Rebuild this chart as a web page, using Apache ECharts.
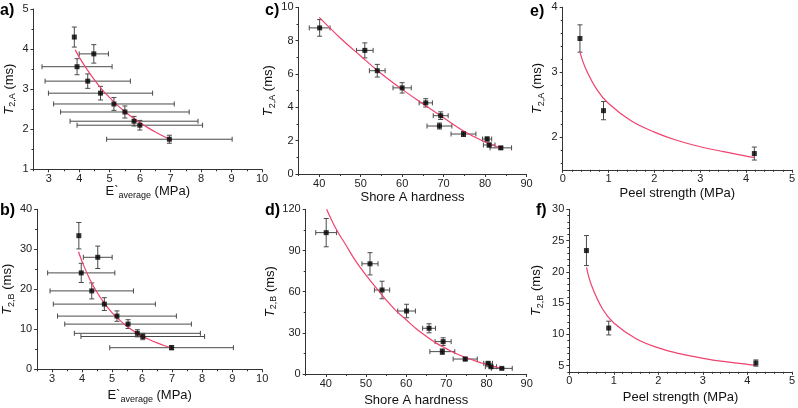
<!DOCTYPE html>
<html><head><meta charset="utf-8">
<script src="https://cdn.jsdelivr.net/npm/echarts@6/dist/echarts.min.js"></script>
<style>html,body{margin:0;padding:0;background:#fff}#c{width:798px;height:408px}</style>
</head><body><div id="c"></div>
<script>
// ---------- data ----------
// Panel a: E`average vs T2,A
const aX = [3.84, 4.48, 3.93, 4.28, 4.70, 5.14, 5.50, 5.80, 5.99, 6.96];
const aY = [4.30, 3.88, 3.56, 3.20, 2.90, 2.63, 2.43, 2.20, 2.10, 1.75];
const aXErr = [0, 0.48, 1.15, 1.40, 1.71, 1.98, 2.11, 2.10, 2.06, 2.06];
const aYErr = [0.25, 0.23, 0.20, 0.18, 0.17, 0.16, 0.15, 0.12, 0.12, 0.10];
const aFitX = [3.87, 4.0, 4.25, 4.5, 4.75, 5.0, 5.25, 5.5, 5.75, 6.0, 6.25, 6.5, 6.75, 7.0];
const aFitY = [3.98, 3.80, 3.50, 3.23, 2.99, 2.79, 2.60, 2.44, 2.29, 2.16, 2.04, 1.93, 1.83, 1.74];
// Panel b: E`average vs T2,B
const bX = [3.89, 4.52, 3.97, 4.32, 4.74, 5.16, 5.53, 5.84, 6.02, 6.98];
const bY = [33.4, 28.0, 24.1, 19.6, 16.3, 13.3, 11.3, 9.0, 8.2, 5.4];
const bXErr = [0, 0.48, 1.12, 1.39, 1.70, 1.98, 2.11, 2.10, 2.06, 2.06];
const bYErr = [3.3, 2.8, 2.4, 2.0, 1.6, 1.3, 1.1, 0.9, 0.8, 0.5];
const bFitX = [3.88, 4.0, 4.25, 4.5, 4.75, 5.0, 5.25, 5.5, 5.75, 6.0, 6.25, 6.5, 6.75, 7.0];
const bFitY = [29.4, 26.9, 22.6, 19.2, 16.4, 14.1, 12.3, 10.7, 9.4, 8.3, 7.4, 6.6, 5.9, 5.3];
// Panel c: Shore A hardness vs T2,A
const cX = [40.1, 51.0, 54.0, 60.0, 65.7, 69.3, 69.0, 74.8, 80.5, 81.0, 83.8];
const cY = [8.77, 7.42, 6.20, 5.17, 4.27, 3.50, 2.88, 2.40, 2.10, 1.74, 1.57];
const cXErr = [2.5, 2.0, 1.9, 2.2, 1.6, 1.8, 3.0, 3.0, 1.1, 1.4, 2.6];
const cYErr = [0.50, 0.45, 0.38, 0.31, 0.25, 0.23, 0.18, 0.15, 0.12, 0.12, 0.08];
const cFitX = [40, 45, 50, 55, 60, 65, 70, 75, 80, 84];
const cFitY = [9.40, 8.18, 7.08, 6.02, 5.08, 4.22, 3.38, 2.55, 1.92, 1.55];
// Panel d: Shore A hardness vs T2,B
const dX = [40.1, 51.0, 54.0, 60.1, 65.7, 69.2, 69.0, 74.7, 80.4, 81.1, 83.8];
const dY = [103, 80.3, 61.2, 45.9, 33.3, 23.6, 16.3, 10.9, 7.8, 5.3, 4.1];
const dXErr = [2.6, 2.0, 1.9, 2.2, 1.6, 2.0, 3.1, 3.0, 1.1, 1.4, 2.6];
const dYErr = [10.3, 8.1, 6.4, 4.9, 3.3, 2.8, 2.0, 1.3, 1.0, 0.7, 0.5];
const dFitX = [40.2, 42.5, 45, 47.5, 50, 52.5, 55, 57.5, 60, 62.5, 65, 67.5, 70, 72.5, 75, 77.5, 80, 82, 84];
const dFitY = [120, 106, 94, 82, 72, 63, 54, 46, 39.5, 33, 27.5, 22.5, 18.5, 14.8, 11.8, 9.2, 7.0, 5.3, 4.0];
// Panel e: Peel strength vs T2,A
const eX = [0.376, 0.89, 4.18];
const eY = [3.52, 2.41, 1.75];
const eXErr = [0, 0, 0];
const eYErr = [0.21, 0.14, 0.10];
const eFitX = [0.376, 0.5, 0.75, 1, 1.5, 2, 2.5, 3, 3.5, 4, 4.18];
const eFitY = [3.31, 3.06, 2.73, 2.52, 2.25, 2.08, 1.95, 1.855, 1.78, 1.71, 1.69];
// Panel f: Peel strength vs T2,B
const fX = [0.385, 0.885, 4.19];
const fY = [23.4, 11.0, 5.4];
const fXErr = [0, 0, 0];
const fYErr = [2.4, 1.1, 0.5];
const fFitX = [0.387, 0.5, 0.75, 1, 1.5, 2, 2.5, 3, 3.5, 4, 4.19];
const fFitY = [20.7, 17.8, 14.0, 11.8, 9.28, 7.82, 6.86, 6.16, 5.62, 5.19, 5.05];

// tick labels
const eAvgTicks = [3, 4, 5, 6, 7, 8, 9, 10];
const aYTicks = [1, 2, 3, 4, 5];
const bYTicks = [0, 10, 20, 30, 40];
const shoreTicks = [40, 50, 60, 70, 80, 90];
const cYTicks = [0, 2, 4, 6, 8, 10];
const dYTicks = [0, 30, 60, 90, 120];
const peelTicks = [0, 1, 2, 3, 4, 5];
const eYTicks = [2, 3, 4];
const fYTicks = [5, 10, 15, 20, 25, 30];

// ---------- chart ----------
const FONT = 'Arial, "Liberation Sans", Helvetica, sans-serif';
const AX = '#333';
const EB = '#4a4a4a';
const FIT = '#f0426e';

const richBase = {
  n: {fontSize: 13, fontFamily: FONT, color: '#111', lineHeight: 15, verticalAlign: 'top'},
  i: {fontSize: 13, fontFamily: FONT, color: '#111', lineHeight: 15, fontStyle: 'italic', verticalAlign: 'top'},
  s: {fontSize: 9, fontFamily: FONT, color: '#111', lineHeight: 9, padding: [6, 0, 0, 0], verticalAlign: 'top'}
};
const nameE = '{n|E`}{s|average}{n| (MPa)}';
const nameShore = '{n|Shore A hardness}';
const namePeel = '{n|Peel strength (MPa)}';
const nameTA = '{i|T}{s|2,A}{n| (ms)}';
const nameTB = '{i|T}{s|2,B}{n| (ms)}';

const panels = [
  {g: {left: 33.5, top: 9, width: 228.5, height: 160.3}, xr: [2.5, 10], yr: [1, 5], xt: eAvgTicks, yt: aYTicks, xm: 0.5, ym: 0.5,
   xn: nameE, yn: nameTA, xg: 10.5, yg: 16, p: [aX, aY, aXErr, aYErr], f: [aFitX, aFitY], lab: 'a)', lp: [0, 3]},
  {g: {left: 33.5, top: 209.3, width: 228.7, height: 160}, xr: [2.5, 10], yr: [0, 40], xt: eAvgTicks, yt: bYTicks, xm: 0.5, ym: 5,
   xn: nameE, yn: nameTB, xg: 20, yg: 17, p: [bX, bY, bXErr, bYErr], f: [bFitX, bFitY], lab: 'b)', lp: [0, 203]},
  {g: {left: 298.5, top: 7.4, width: 228, height: 166.6}, xr: [35, 90], yr: [0, 10], xt: shoreTicks, yt: cYTicks, xm: 5, ym: 1,
   xn: nameShore, yn: nameTA, xg: 17, yg: 18, p: [cX, cY, cXErr, cYErr], f: [cFitX, cFitY], lab: 'c)', lp: [265, 3]},
  {g: {left: 305.7, top: 209.3, width: 221, height: 164.7}, xr: [35, 90], yr: [0, 120], xt: shoreTicks, yt: dYTicks, xm: 5, ym: 15,
   xn: nameShore, yn: nameTB, xg: 20, yg: 23, p: [dX, dY, dXErr, dYErr], f: [dFitX, dFitY], lab: 'd)', lp: [265, 203]},
  {g: {left: 562.7, top: 7.3, width: 230.6, height: 162.5}, xr: [0, 5], yr: [1.5, 4], xt: peelTicks, yt: eYTicks, xm: 0.2, ym: 0.2,
   xn: namePeel, yn: nameTA, xg: 17, yg: 17, p: [eX, eY, eXErr, eYErr], f: [eFitX, eFitY], lab: 'e)', lp: [530, 4]},
  {g: {left: 569.3, top: 209.3, width: 224, height: 162.5}, xr: [0, 5], yr: [4, 30], xt: peelTicks, yt: fYTicks, xm: 0.2, ym: 1,
   xn: namePeel, yn: nameTB, xg: 19, yg: 24, p: [fX, fY, fXErr, fYErr], f: [fFitX, fFitY], lab: 'f)', lp: [536, 203]}
];

function minorVals(min, max, step, majors) {
  const out = [];
  const k0 = Math.ceil(min / step - 1e-9), k1 = Math.floor(max / step + 1e-9);
  for (let k = k0; k <= k1; k++) {
    const v = +(k * step).toFixed(6);
    if (!majors.some(m => Math.abs(m - v) < 1e-9)) out.push(v);
  }
  return out;
}

const grid = [], xAxis = [], yAxis = [], series = [], graphic = [];
const labelStyle = {fontSize: 11, color: '#222', fontFamily: FONT};

panels.forEach((P, i) => {
  grid.push(Object.assign({containLabel: false}, P.g));
  xAxis.push({
    type: 'value', gridIndex: i, min: P.xr[0], max: P.xr[1], position: 'bottom',
    axisLine: {show: true, onZero: false, lineStyle: {color: AX, width: 1}},
    axisTick: {show: true, inside: false, length: 3, customValues: P.xt, lineStyle: {color: AX}},
    axisLabel: Object.assign({customValues: P.xt, margin: 4}, labelStyle),
    splitLine: {show: false},
    name: P.xn, nameLocation: 'middle', nameGap: P.xg,
    nameTextStyle: {rich: richBase}
  });
  xAxis.push({
    type: 'value', gridIndex: i, min: P.xr[0], max: P.xr[1], position: 'bottom',
    axisLine: {show: false, onZero: false},
    axisTick: {show: true, inside: false, length: 2, customValues: minorVals(P.xr[0], P.xr[1], P.xm, P.xt), lineStyle: {color: AX}},
    axisLabel: {show: false}, splitLine: {show: false}
  });
  yAxis.push({
    type: 'value', gridIndex: i, min: P.yr[0], max: P.yr[1], position: 'left',
    axisLine: {show: true, onZero: false, lineStyle: {color: AX, width: 1}},
    axisTick: {show: true, inside: false, length: 3, customValues: P.yt, lineStyle: {color: AX}},
    axisLabel: Object.assign({customValues: P.yt, margin: 5}, labelStyle),
    splitLine: {show: false},
    name: P.yn, nameLocation: 'middle', nameGap: P.yg,
    nameTextStyle: {rich: richBase}
  });
  yAxis.push({
    type: 'value', gridIndex: i, min: P.yr[0], max: P.yr[1], position: 'left',
    axisLine: {show: false, onZero: false},
    axisTick: {show: true, inside: false, length: 2, customValues: minorVals(P.yr[0], P.yr[1], P.ym, P.yt), lineStyle: {color: AX}},
    axisLabel: {show: false}, splitLine: {show: false}
  });
  const xi = 2 * i, yi = 2 * i;
  const [px, py, pex, pey] = P.p;
  series.push({
    type: 'custom', xAxisIndex: xi, yAxisIndex: yi, z: 2, clip: false,
    data: px.map((v, j) => [v, py[j], pex[j] || 0, pey[j] || 0]),
    encode: {x: 0, y: 1},
    renderItem: function (params, api) {
      const x = api.value(0), y = api.value(1), ex = api.value(2), ey = api.value(3);
      const ch = [];
      const st = {stroke: EB, lineWidth: 1};
      const L = (x1, y1, x2, y2) => ch.push({type: 'line', shape: {x1, y1, x2, y2}, style: st});
      if (ey > 0) {
        const p1 = api.coord([x, y - ey]), p2 = api.coord([x, y + ey]);
        L(p1[0], p1[1], p2[0], p2[1]);
        L(p1[0] - 2.5, p1[1], p1[0] + 2.5, p1[1]);
        L(p2[0] - 2.5, p2[1], p2[0] + 2.5, p2[1]);
      }
      if (ex > 0) {
        const p1 = api.coord([x - ex, y]), p2 = api.coord([x + ex, y]);
        L(p1[0], p1[1], p2[0], p2[1]);
        L(p1[0], p1[1] - 2.5, p1[0], p1[1] + 2.5);
        L(p2[0], p2[1] - 2.5, p2[0], p2[1] + 2.5);
      }
      return {type: 'group', children: ch};
    }
  });
  series.push({
    type: 'line', xAxisIndex: xi, yAxisIndex: yi, z: 3, smooth: 0.4, showSymbol: false, symbol: 'none',
    data: P.f[0].map((v, j) => [v, P.f[1][j]]),
    lineStyle: {color: FIT, width: 1.2}
  });
  series.push({
    type: 'scatter', xAxisIndex: xi, yAxisIndex: yi, z: 4, symbol: 'rect', symbolSize: 5,
    data: px.map((v, j) => [v, py[j]]),
    itemStyle: {color: '#000'}
  });
  graphic.push({type: 'text', left: P.lp[0], top: P.lp[1],
    style: {text: P.lab, font: 'bold 16px ' + FONT, fill: '#000'}});
});

const chart = echarts.init(document.getElementById('c'), null, {renderer: 'canvas'});
chart.setOption({
  animation: false,
  backgroundColor: '#fff',
  grid, xAxis, yAxis, series, graphic
});
</script>
</body></html>
